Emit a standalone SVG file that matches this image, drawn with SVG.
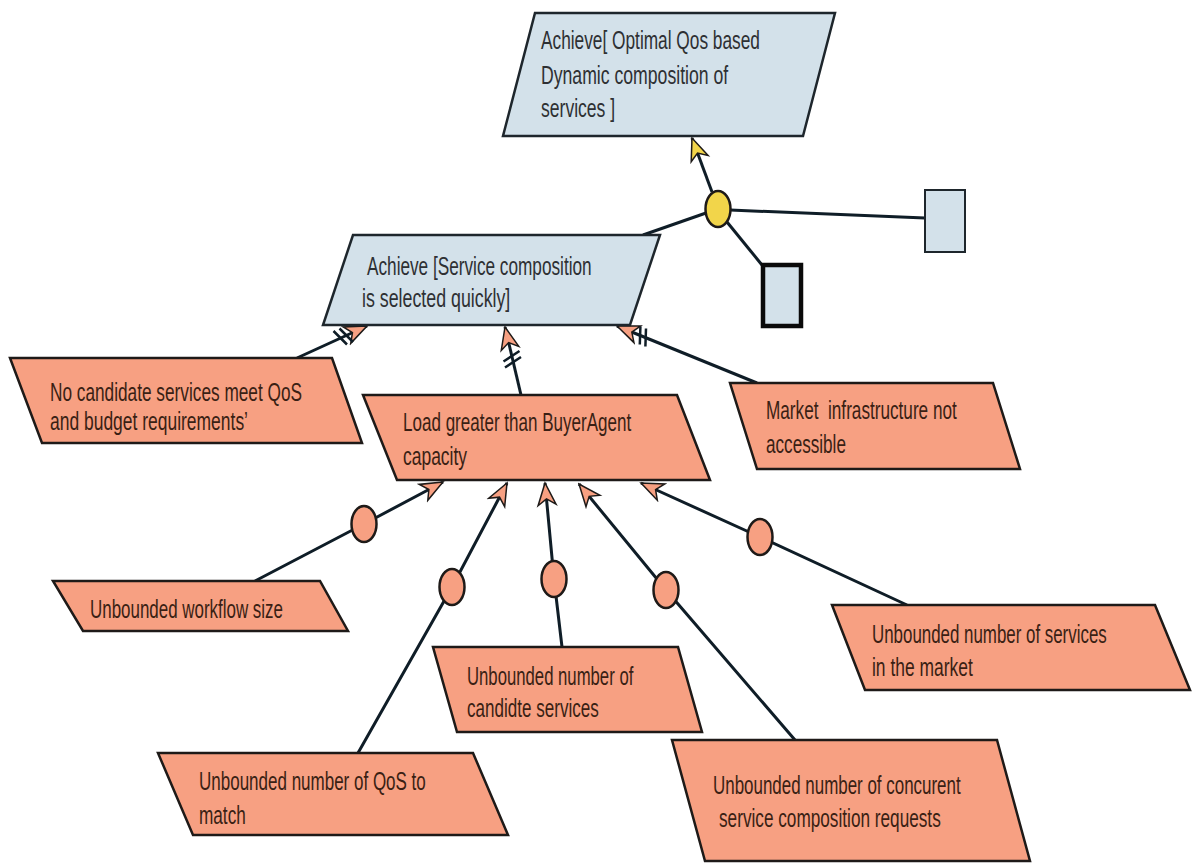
<svg xmlns="http://www.w3.org/2000/svg" width="1192" height="863" viewBox="0 0 1192 863">
  <defs>
    <style>
      .goal{fill:#d3e1ea;stroke:#1e262c;stroke-width:2.5}
      .obst{fill:#f7a082;stroke:#1e1a18;stroke-width:2.5}
      .lbl{font-family:"Liberation Sans",Arial,sans-serif;font-size:25px;white-space:pre}
      .goal-t{fill:#2e3033}
      .obst-t{fill:#3a1f14}
      .link{fill:none;stroke:#0f1d27;stroke-width:3}
      .tick{stroke:#0f1d27;stroke-width:2.5;fill:none}
      .ref{fill:#f7a082;stroke:#1e1a18;stroke-width:2.5}
      .refg{fill:#f2d54a;stroke:#1e1a18;stroke-width:2.5}
      .agent{fill:#d3e1ea;stroke:#1e262c;stroke-width:2}
      .agent-b{fill:#d3e1ea;stroke:#0a0a0a;stroke-width:4.5}
    </style>
    <marker id="headObst" markerUnits="userSpaceOnUse" markerWidth="26" markerHeight="22" viewBox="0 0 26 22" refX="24" refY="11" orient="auto">
      <path d="M24,11 L2,2 L8,11 L2,20 Z" fill="#f7a082" stroke="#1e1a18" stroke-width="1.5"/>
    </marker>
    <marker id="headGoal" markerUnits="userSpaceOnUse" markerWidth="26" markerHeight="22" viewBox="0 0 26 22" refX="24" refY="11" orient="auto">
      <path d="M24,11 L2,2 L8,11 L2,20 Z" fill="#f2d54a" stroke="#1e1a18" stroke-width="1.5"/>
    </marker>
  </defs>
  <rect width="1192" height="863" fill="#ffffff"/>

  <!-- connectors -->
  <g id="connectors">
    <!-- goal refinement -->
    <line class="link" x1="712" y1="192" x2="692" y2="138" marker-end="url(#headGoal)"/>
    <line class="link" x1="730" y1="210" x2="925" y2="218"/>
    <line class="link" x1="727" y1="222" x2="762" y2="265"/>
    <line class="link" x1="706" y1="213" x2="643" y2="235"/>
    <!-- obstruction links -->
    <line class="link" x1="297" y1="358" x2="367" y2="326" marker-end="url(#headObst)"/>
    <line class="link" x1="521" y1="395" x2="505" y2="327" marker-end="url(#headObst)"/>
    <line class="link" x1="757" y1="383" x2="617" y2="326" marker-end="url(#headObst)"/>
    <path class="tick" d="M333.5,331 L347,344.5 M339.5,328.5 L353,342"/>
    <path class="tick" d="M505,367.5 L521,357 M503.5,361.5 L519.5,351"/>
    <path class="tick" d="M646,328.5 L645.4,346.5 M640.4,326.5 L639.8,344.5"/>
    <!-- obstacle refinement -->
    <polyline class="link" points="255,581 364,524 443,482" marker-end="url(#headObst)"/>
    <polyline class="link" points="358,753 452,587 507,483" marker-end="url(#headObst)"/>
    <polyline class="link" points="562,647 554,579 545,483" marker-end="url(#headObst)"/>
    <polyline class="link" points="795,740 666,590 579,484" marker-end="url(#headObst)"/>
    <polyline class="link" points="907,605 760,537 641,483" marker-end="url(#headObst)"/>
    <!-- refinement nodes -->
    <ellipse class="refg" cx="718" cy="209" rx="12.5" ry="18"/>
    <ellipse class="ref" cx="364" cy="524" rx="12.5" ry="18"/>
    <ellipse class="ref" cx="452" cy="587" rx="12.5" ry="18"/>
    <ellipse class="ref" cx="554" cy="579" rx="12.5" ry="18"/>
    <ellipse class="ref" cx="666" cy="590" rx="12.5" ry="18"/>
    <ellipse class="ref" cx="760" cy="537" rx="12.5" ry="18"/>
  </g>

  <g id="goal-optimal">
    <polygon class="goal" points="535,13 835,13 803,136 503,136"/>
    <text class="lbl goal-t" transform="translate(541,49) scale(0.72,1)" textLength="304" lengthAdjust="spacingAndGlyphs">Achieve[ Optimal Qos based</text>
    <text class="lbl goal-t" transform="translate(541,84) scale(0.72,1)" textLength="260" lengthAdjust="spacingAndGlyphs">Dynamic composition of</text>
    <text class="lbl goal-t" transform="translate(541,117) scale(0.72,1)" textLength="103" lengthAdjust="spacingAndGlyphs">services ]</text>
  </g>

  <g id="agent-1">
    <rect class="agent" x="925" y="190" width="40" height="62"/>
  </g>
  <g id="agent-2">
    <rect class="agent-b" x="763" y="265" width="38" height="61"/>
  </g>

  <g id="goal-quick">
    <polygon class="goal" points="353,235 660,235 630,325 323,325"/>
    <text class="lbl goal-t" transform="translate(367,275) scale(0.72,1)" textLength="312" lengthAdjust="spacingAndGlyphs">Achieve [Service composition</text>
    <text class="lbl goal-t" transform="translate(362,307) scale(0.72,1)" textLength="206" lengthAdjust="spacingAndGlyphs">is selected quickly]</text>
  </g>

  <g id="obst-no-candidate">
    <polygon class="obst" points="10,358 332,358 362,443 42,443"/>
    <text class="lbl obst-t" transform="translate(50,401) scale(0.72,1)" textLength="350" lengthAdjust="spacingAndGlyphs">No candidate services meet QoS</text>
    <text class="lbl obst-t" transform="translate(50,430) scale(0.72,1)" textLength="275" lengthAdjust="spacingAndGlyphs">and budget requirements’</text>
  </g>

  <g id="obst-load">
    <polygon class="obst" points="363,395 677,395 710,480 397,480"/>
    <text class="lbl obst-t" transform="translate(403,431) scale(0.72,1)" textLength="317" lengthAdjust="spacingAndGlyphs">Load greater than BuyerAgent</text>
    <text class="lbl obst-t" transform="translate(403,465) scale(0.72,1)" textLength="89" lengthAdjust="spacingAndGlyphs">capacity</text>
  </g>

  <g id="obst-market">
    <polygon class="obst" points="730,383 993,383 1020,469 757,469"/>
    <text class="lbl obst-t" transform="translate(766,419) scale(0.72,1)" textLength="265" lengthAdjust="spacingAndGlyphs">Market  infrastructure not</text>
    <text class="lbl obst-t" transform="translate(766,453) scale(0.72,1)" textLength="111" lengthAdjust="spacingAndGlyphs">accessible</text>
  </g>

  <g id="obst-workflow">
    <polygon class="obst" points="53,581 320,581 348,631 83,631"/>
    <text class="lbl obst-t" transform="translate(90,618) scale(0.72,1)" textLength="268" lengthAdjust="spacingAndGlyphs">Unbounded workflow size</text>
  </g>

  <g id="obst-candidates">
    <polygon class="obst" points="433,647 678,647 702,732 457,732"/>
    <text class="lbl obst-t" transform="translate(467,685) scale(0.72,1)" textLength="231" lengthAdjust="spacingAndGlyphs">Unbounded number of</text>
    <text class="lbl obst-t" transform="translate(467,717) scale(0.72,1)" textLength="183" lengthAdjust="spacingAndGlyphs">candidte services</text>
  </g>

  <g id="obst-qos">
    <polygon class="obst" points="158,753 473,753 508,835 193,835"/>
    <text class="lbl obst-t" transform="translate(199,790) scale(0.72,1)" textLength="315" lengthAdjust="spacingAndGlyphs">Unbounded number of QoS to</text>
    <text class="lbl obst-t" transform="translate(199,824) scale(0.72,1)" textLength="65" lengthAdjust="spacingAndGlyphs">match</text>
  </g>

  <g id="obst-services">
    <polygon class="obst" points="832,605 1155,605 1190,690 865,690"/>
    <text class="lbl obst-t" transform="translate(872,643) scale(0.72,1)" textLength="326" lengthAdjust="spacingAndGlyphs">Unbounded number of services</text>
    <text class="lbl obst-t" transform="translate(872,676) scale(0.72,1)" textLength="140" lengthAdjust="spacingAndGlyphs">in the market</text>
  </g>

  <g id="obst-concurrent">
    <polygon class="obst" points="672,740 997,740 1030,861 705,861"/>
    <text class="lbl obst-t" transform="translate(713,794) scale(0.72,1)" textLength="344" lengthAdjust="spacingAndGlyphs">Unbounded number of concurent</text>
    <text class="lbl obst-t" transform="translate(719,827) scale(0.72,1)" textLength="308" lengthAdjust="spacingAndGlyphs">service composition requests</text>
  </g>
</svg>
